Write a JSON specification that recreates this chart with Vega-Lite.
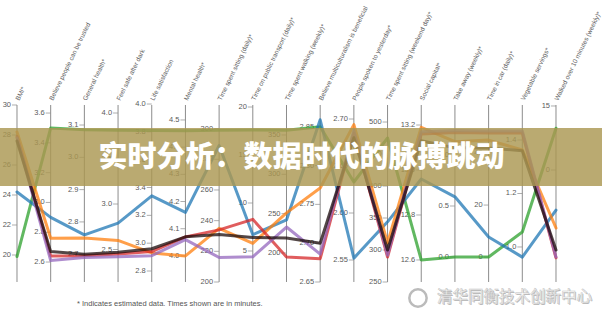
{
  "$schema": "https://vega.github.io/schema/vega-lite/v6.json",
  "width": 602,
  "height": 314,
  "autosize": {"type": "none"},
  "padding": 0,
  "background": "white",
  "config": {"view": {"stroke": null}},
  "datasets": {
    "axes": [
      {"axis": 1, "name": "BMI*", "lo": 18.2, "hi": 30.0},
      {"axis": 2, "name": "Believe people can be trusted", "lo": 2.466, "hi": 3.654},
      {"axis": 3, "name": "General health*", "lo": 2.614, "hi": 3.162},
      {"axis": 4, "name": "Feel safe after dark", "lo": 2.143, "hi": 4.088},
      {"axis": 5, "name": "Life satisfaction", "lo": 2.721, "hi": 3.993},
      {"axis": 6, "name": "Mental health*", "lo": 3.904, "hi": 4.555},
      {"axis": 7, "name": "Time spent sitting (daily)*", "lo": 200, "hi": 315.4},
      {"axis": 8, "name": "Time on public transport (daily)*", "lo": 1.77, "hi": 20.21},
      {"axis": 9, "name": "Time spent walking (weekly)*", "lo": 163.1, "hi": 388.1},
      {"axis": 10, "name": "Believe multiculturalism is beneficial", "lo": 2.65, "hi": 2.878},
      {"axis": 11, "name": "People spoken to yesterday*", "lo": 2.5266, "hi": 2.7149},
      {"axis": 12, "name": "Time spent sitting (weekend day)*", "lo": 250, "hi": 526.6},
      {"axis": 13, "name": "Social capital*", "lo": 12.502, "hi": 13.289},
      {"axis": 14, "name": "Take away (weekly)*", "lo": -0.245, "hi": 1.49},
      {"axis": 15, "name": "Time in car (daily)*", "lo": -9.6, "hi": 58.5},
      {"axis": 16, "name": "Vegetable servings*", "lo": 0.869, "hi": 1.531},
      {"axis": 17, "name": "Walked over 10 minutes (weekly)*", "lo": -26.25, "hi": 15.23}
    ],
    "ticks": [
      {"axis": 1, "tick": 30, "label": "30"}, {"axis": 1, "tick": 28, "label": "28"}, {"axis": 1, "tick": 26, "label": "26"}, {"axis": 1, "tick": 24, "label": "24"}, {"axis": 1, "tick": 22, "label": "22"}, {"axis": 1, "tick": 20, "label": "20"},
      {"axis": 2, "tick": 3.6, "label": "3.6"}, {"axis": 2, "tick": 3.4, "label": "3.4"}, {"axis": 2, "tick": 3.2, "label": "3.2"}, {"axis": 2, "tick": 3.0, "label": "3.0"}, {"axis": 2, "tick": 2.8, "label": "2.8"}, {"axis": 2, "tick": 2.6, "label": "2.6"},
      {"axis": 3, "tick": 3.1, "label": "3.1"}, {"axis": 3, "tick": 3.0, "label": "3.0"}, {"axis": 3, "tick": 2.9, "label": "2.9"}, {"axis": 3, "tick": 2.8, "label": "2.8"}, {"axis": 3, "tick": 2.7, "label": "2.7"},
      {"axis": 4, "tick": 4.0, "label": "4.0"}, {"axis": 4, "tick": 3.5, "label": "3.5"}, {"axis": 4, "tick": 3.0, "label": "3.0"}, {"axis": 4, "tick": 2.5, "label": "2.5"},
      {"axis": 5, "tick": 4.0, "label": "4.0"}, {"axis": 5, "tick": 3.8, "label": "3.8"}, {"axis": 5, "tick": 3.6, "label": "3.6"}, {"axis": 5, "tick": 3.4, "label": "3.4"}, {"axis": 5, "tick": 3.2, "label": "3.2"}, {"axis": 5, "tick": 3.0, "label": "3.0"}, {"axis": 5, "tick": 2.8, "label": "2.8"},
      {"axis": 6, "tick": 4.5, "label": "4.5"}, {"axis": 6, "tick": 4.4, "label": "4.4"}, {"axis": 6, "tick": 4.3, "label": "4.3"}, {"axis": 6, "tick": 4.2, "label": "4.2"}, {"axis": 6, "tick": 4.1, "label": "4.1"}, {"axis": 6, "tick": 4.0, "label": "4.0"},
      {"axis": 7, "tick": 300, "label": "300"}, {"axis": 7, "tick": 280, "label": "280"}, {"axis": 7, "tick": 260, "label": "260"}, {"axis": 7, "tick": 240, "label": "240"}, {"axis": 7, "tick": 220, "label": "220"}, {"axis": 7, "tick": 200, "label": "200"},
      {"axis": 8, "tick": 20, "label": "20"}, {"axis": 8, "tick": 15, "label": "15"}, {"axis": 8, "tick": 10, "label": "10"}, {"axis": 8, "tick": 5, "label": "5"},
      {"axis": 9, "tick": 350, "label": "350"}, {"axis": 9, "tick": 300, "label": "300"}, {"axis": 9, "tick": 250, "label": "250"}, {"axis": 9, "tick": 200, "label": "200"},
      {"axis": 10, "tick": 2.85, "label": "2.85"}, {"axis": 10, "tick": 2.80, "label": "2.80"}, {"axis": 10, "tick": 2.75, "label": "2.75"}, {"axis": 10, "tick": 2.70, "label": "2.70"}, {"axis": 10, "tick": 2.65, "label": "2.65"},
      {"axis": 11, "tick": 2.70, "label": "2.70"}, {"axis": 11, "tick": 2.65, "label": "2.65"}, {"axis": 11, "tick": 2.60, "label": "2.60"}, {"axis": 11, "tick": 2.55, "label": "2.55"},
      {"axis": 12, "tick": 500, "label": "500"}, {"axis": 12, "tick": 450, "label": "450"}, {"axis": 12, "tick": 400, "label": "400"}, {"axis": 12, "tick": 350, "label": "350"}, {"axis": 12, "tick": 300, "label": "300"}, {"axis": 12, "tick": 250, "label": "250"},
      {"axis": 13, "tick": 13.2, "label": "13.2"}, {"axis": 13, "tick": 13.0, "label": "13.0"}, {"axis": 13, "tick": 12.8, "label": "12.8"}, {"axis": 13, "tick": 12.6, "label": "12.6"},
      {"axis": 14, "tick": 1.0, "label": "1.0"}, {"axis": 14, "tick": 0.5, "label": "0.5"}, {"axis": 14, "tick": 0.0, "label": "0.0"},
      {"axis": 15, "tick": 40, "label": "40"}, {"axis": 15, "tick": 20, "label": "20"}, {"axis": 15, "tick": 0, "label": "0"},
      {"axis": 16, "tick": 1.4, "label": "1.4"}, {"axis": 16, "tick": 1.2, "label": "1.2"}, {"axis": 16, "tick": 1.0, "label": "1.0"},
      {"axis": 17, "tick": 15, "label": "15"}, {"axis": 17, "tick": 0, "label": "0"}
    ],
    "lines": [
      {"series": "green", "axis": 1, "value": 19.9}, {"series": "green", "axis": 2, "value": 3.50}, {"series": "green", "axis": 3, "value": 3.085}, {"series": "green", "axis": 4, "value": 3.81}, {"series": "green", "axis": 5, "value": 3.81}, {"series": "green", "axis": 6, "value": 4.46}, {"series": "green", "axis": 7, "value": 299}, {"series": "green", "axis": 8, "value": 17.6}, {"series": "green", "axis": 9, "value": 356}, {"series": "green", "axis": 10, "value": 2.850}, {"series": "green", "axis": 11, "value": 2.633}, {"series": "green", "axis": 12, "value": 475}, {"series": "green", "axis": 13, "value": 12.60}, {"series": "green", "axis": 14, "value": 0.0}, {"series": "green", "axis": 15, "value": 0.0}, {"series": "green", "axis": 16, "value": 1.056}, {"series": "green", "axis": 17, "value": 9.8},
      {"series": "blue", "axis": 1, "value": 24.2}, {"series": "blue", "axis": 2, "value": 2.90}, {"series": "blue", "axis": 3, "value": 2.76}, {"series": "blue", "axis": 4, "value": 2.79}, {"series": "blue", "axis": 5, "value": 3.34}, {"series": "blue", "axis": 6, "value": 4.16}, {"series": "blue", "axis": 7, "value": 289}, {"series": "blue", "axis": 8, "value": 6.7}, {"series": "blue", "axis": 9, "value": 242}, {"series": "blue", "axis": 10, "value": 2.859}, {"series": "blue", "axis": 11, "value": 2.552}, {"series": "blue", "axis": 12, "value": 344}, {"series": "blue", "axis": 13, "value": 12.96}, {"series": "blue", "axis": 14, "value": 0.59}, {"series": "blue", "axis": 15, "value": 7.7}, {"series": "blue", "axis": 16, "value": 0.962}, {"series": "blue", "axis": 17, "value": -9.4},
      {"series": "orange", "axis": 1, "value": 28.2}, {"series": "orange", "axis": 2, "value": 2.76}, {"series": "orange", "axis": 3, "value": 2.75}, {"series": "orange", "axis": 4, "value": 2.60}, {"series": "orange", "axis": 5, "value": 2.93}, {"series": "orange", "axis": 6, "value": 4.00}, {"series": "orange", "axis": 7, "value": 235}, {"series": "orange", "axis": 8, "value": 5.8}, {"series": "orange", "axis": 9, "value": 251}, {"series": "orange", "axis": 10, "value": 2.771}, {"series": "orange", "axis": 11, "value": 2.694}, {"series": "orange", "axis": 12, "value": 311}, {"series": "orange", "axis": 13, "value": 13.19}, {"series": "orange", "axis": 14, "value": 1.13}, {"series": "orange", "axis": 15, "value": 45.0}, {"series": "orange", "axis": 16, "value": 1.363}, {"series": "orange", "axis": 17, "value": -13.6},
      {"series": "red", "axis": 1, "value": 27.9}, {"series": "red", "axis": 2, "value": 2.64}, {"series": "red", "axis": 3, "value": 2.695}, {"series": "red", "axis": 4, "value": 2.45}, {"series": "red", "axis": 5, "value": 2.94}, {"series": "red", "axis": 6, "value": 4.07}, {"series": "red", "axis": 7, "value": 234}, {"series": "red", "axis": 8, "value": 8.3}, {"series": "red", "axis": 9, "value": 195}, {"series": "red", "axis": 10, "value": 2.680}, {"series": "red", "axis": 11, "value": 2.685}, {"series": "red", "axis": 12, "value": 289}, {"series": "red", "axis": 13, "value": 13.16}, {"series": "red", "axis": 14, "value": 1.22}, {"series": "red", "axis": 15, "value": 47.7}, {"series": "red", "axis": 16, "value": 1.426}, {"series": "red", "axis": 17, "value": -20.6},
      {"series": "purple", "axis": 1, "value": 27.8}, {"series": "purple", "axis": 2, "value": 2.61}, {"series": "purple", "axis": 3, "value": 2.69}, {"series": "purple", "axis": 4, "value": 2.42}, {"series": "purple", "axis": 5, "value": 2.91}, {"series": "purple", "axis": 6, "value": 4.06}, {"series": "purple", "axis": 7, "value": 216}, {"series": "purple", "axis": 8, "value": 4.4}, {"series": "purple", "axis": 9, "value": 233}, {"series": "purple", "axis": 10, "value": 2.686}, {"series": "purple", "axis": 11, "value": 2.688}, {"series": "purple", "axis": 12, "value": 292}, {"series": "purple", "axis": 13, "value": 13.17}, {"series": "purple", "axis": 14, "value": 1.24}, {"series": "purple", "axis": 15, "value": 48.5}, {"series": "purple", "axis": 16, "value": 1.434}, {"series": "purple", "axis": 17, "value": -20.4},
      {"series": "black", "axis": 1, "value": 27.6}, {"series": "black", "axis": 2, "value": 2.67}, {"series": "black", "axis": 3, "value": 2.70}, {"series": "black", "axis": 4, "value": 2.47}, {"series": "black", "axis": 5, "value": 2.96}, {"series": "black", "axis": 6, "value": 4.07}, {"series": "black", "axis": 7, "value": 231}, {"series": "black", "axis": 8, "value": 6.4}, {"series": "black", "axis": 9, "value": 219}, {"series": "black", "axis": 10, "value": 2.700}, {"series": "black", "axis": 11, "value": 2.680}, {"series": "black", "axis": 12, "value": 300}, {"series": "black", "axis": 13, "value": 13.13}, {"series": "black", "axis": 14, "value": 1.07}, {"series": "black", "axis": 15, "value": 42.0}, {"series": "black", "axis": 16, "value": 1.36}, {"series": "black", "axis": 17, "value": -18.75}
    ]
  },
  "layer": [
    {
      "data": {"name": "axes"},
      "mark": {"type": "rule", "color": "#8c8c8c", "strokeWidth": 1},
      "encoding": {
        "x": {"field": "axis", "type": "quantitative", "scale": {"domain": [0.4954, 18.3655], "nice": false, "zero": false}, "axis": null},
        "y": {"datum": 0, "type": "quantitative", "scale": {"domain": [-0.1808, 1.5932], "nice": false, "zero": false}, "axis": null},
        "y2": {"datum": 1}
      }
    },
    {
      "data": {"name": "ticks"},
      "transform": [
        {"lookup": "axis", "from": {"data": {"name": "axes"}, "key": "axis", "fields": ["lo", "hi"]}},
        {"calculate": "(datum.tick - datum.lo) / (datum.hi - datum.lo)", "as": "n"}
      ],
      "mark": {"type": "tick", "orient": "horizontal", "size": 5, "thickness": 1, "xOffset": -2.5, "color": "#8c8c8c"},
      "encoding": {
        "x": {"field": "axis", "type": "quantitative", "scale": {"domain": [0.4954, 18.3655], "nice": false, "zero": false}, "axis": null},
        "y": {"field": "n", "type": "quantitative", "scale": {"domain": [-0.1808, 1.5932], "nice": false, "zero": false}, "axis": null}
      }
    },
    {
      "data": {"name": "ticks"},
      "transform": [
        {"lookup": "axis", "from": {"data": {"name": "axes"}, "key": "axis", "fields": ["lo", "hi"]}},
        {"calculate": "(datum.tick - datum.lo) / (datum.hi - datum.lo)", "as": "n"}
      ],
      "mark": {"type": "text", "align": "right", "baseline": "middle", "dx": -6, "fontSize": 7.5, "font": "Liberation Sans", "color": "#5a5a5a"},
      "encoding": {
        "x": {"field": "axis", "type": "quantitative", "scale": {"domain": [0.4954, 18.3655], "nice": false, "zero": false}, "axis": null},
        "y": {"field": "n", "type": "quantitative", "scale": {"domain": [-0.1808, 1.5932], "nice": false, "zero": false}, "axis": null},
        "text": {"field": "label"}
      }
    },
    {
      "data": {"name": "lines"},
      "transform": [
        {"lookup": "axis", "from": {"data": {"name": "axes"}, "key": "axis", "fields": ["lo", "hi"]}},
        {"calculate": "(datum.value - datum.lo) / (datum.hi - datum.lo)", "as": "n"}
      ],
      "mark": {"type": "line", "strokeWidth": 3, "strokeCap": "round", "strokeJoin": "round"},
      "encoding": {
        "x": {"field": "axis", "type": "quantitative", "scale": {"domain": [0.4954, 18.3655], "nice": false, "zero": false}, "axis": null},
        "y": {"field": "n", "type": "quantitative", "scale": {"domain": [-0.1808, 1.5932], "nice": false, "zero": false}, "axis": null},
        "color": {"field": "series", "type": "nominal", "scale": {"domain": ["green", "blue", "orange", "red", "purple", "black"], "range": ["#2ca02c", "#1f77b4", "#ff7f0e", "#d62728", "#9467bd", "#1a0a0a"]}, "legend": null},
        "opacity": {"field": "series", "type": "nominal", "scale": {"domain": ["green", "blue", "orange", "red", "purple", "black"], "range": [0.75, 0.75, 0.75, 0.75, 0.75, 0.88]}, "legend": null},
        "order": {"field": "axis", "type": "quantitative"}
      }
    },
    {
      "data": {"name": "axes"},
      "mark": {"type": "text", "align": "left", "baseline": "middle", "angle": -64, "dx": 1, "fontSize": 6.5, "font": "Liberation Sans", "color": "#5e5e5e"},
      "encoding": {
        "x": {"field": "axis", "type": "quantitative", "scale": {"domain": [0.4954, 18.3655], "nice": false, "zero": false}, "axis": null},
        "y": {"datum": 1.0226, "type": "quantitative", "scale": {"domain": [-0.1808, 1.5932], "nice": false, "zero": false}, "axis": null},
        "text": {"field": "name"}
      }
    },
    {
      "data": {"values": [{}]},
      "mark": {"type": "rect", "color": "#ab9752", "opacity": 0.82},
      "encoding": {
        "x": {"datum": 0.4954, "type": "quantitative", "scale": {"domain": [0.4954, 18.3655], "nice": false, "zero": false}, "axis": null},
        "x2": {"datum": 18.3655},
        "y": {"datum": 0.5424, "type": "quantitative", "scale": {"domain": [-0.1808, 1.5932], "nice": false, "zero": false}, "axis": null},
        "y2": {"datum": 0.8701}
      }
    },
    {
      "data": {"values": [{"t": "实时分析：数据时代的脉搏跳动"}]},
      "mark": {"type": "text", "align": "center", "baseline": "middle", "fontSize": 29, "fontWeight": 900, "font": "Noto Sans CJK SC", "color": "#ffffff"},
      "encoding": {
        "x": {"datum": 9.445, "type": "quantitative", "scale": {"domain": [0.4954, 18.3655], "nice": false, "zero": false}, "axis": null},
        "y": {"datum": 0.7006, "type": "quantitative", "scale": {"domain": [-0.1808, 1.5932], "nice": false, "zero": false}, "axis": null},
        "text": {"field": "t"}
      }
    },
    {
      "data": {"values": [{"t": "* Indicates estimated data. Times shown are in minutes."}]},
      "mark": {"type": "text", "align": "left", "baseline": "middle", "fontSize": 7.5, "font": "Liberation Sans", "color": "#555555"},
      "encoding": {
        "x": {"datum": 2.781, "type": "quantitative", "scale": {"domain": [0.4954, 18.3655], "nice": false, "zero": false}, "axis": null},
        "y": {"datum": -0.1243, "type": "quantitative", "scale": {"domain": [-0.1808, 1.5932], "nice": false, "zero": false}, "axis": null},
        "text": {"field": "t"}
      }
    },
    {
      "data": {"values": [{}]},
      "mark": {"type": "point", "shape": "circle", "size": 300, "filled": false, "stroke": "#b4b4b4", "strokeWidth": 2.5, "opacity": 0.9},
      "encoding": {
        "x": {"datum": 12.903, "type": "quantitative", "scale": {"domain": [0.4954, 18.3655], "nice": false, "zero": false}, "axis": null},
        "y": {"datum": -0.0904, "type": "quantitative", "scale": {"domain": [-0.1808, 1.5932], "nice": false, "zero": false}, "axis": null}
      }
    },
    {
      "data": {"values": [{"t": "清华同衡技术创新中心"}]},
      "mark": {"type": "text", "align": "left", "baseline": "middle", "dx": 1, "dy": 1, "fontSize": 15.5, "font": "Noto Sans CJK SC", "color": "#b9b9b9"},
      "encoding": {
        "x": {"datum": 13.468, "type": "quantitative", "scale": {"domain": [0.4954, 18.3655], "nice": false, "zero": false}, "axis": null},
        "y": {"datum": -0.0847, "type": "quantitative", "scale": {"domain": [-0.1808, 1.5932], "nice": false, "zero": false}, "axis": null},
        "text": {"field": "t"}
      }
    },
    {
      "data": {"values": [{"t": "清华同衡技术创新中心"}]},
      "mark": {"type": "text", "align": "left", "baseline": "middle", "fontSize": 15.5, "font": "Noto Sans CJK SC", "color": "#fbfbfb", "stroke": "#c4c4c4", "strokeWidth": 0.5},
      "encoding": {
        "x": {"datum": 13.468, "type": "quantitative", "scale": {"domain": [0.4954, 18.3655], "nice": false, "zero": false}, "axis": null},
        "y": {"datum": -0.0847, "type": "quantitative", "scale": {"domain": [-0.1808, 1.5932], "nice": false, "zero": false}, "axis": null},
        "text": {"field": "t"}
      }
    }
  ]
}
